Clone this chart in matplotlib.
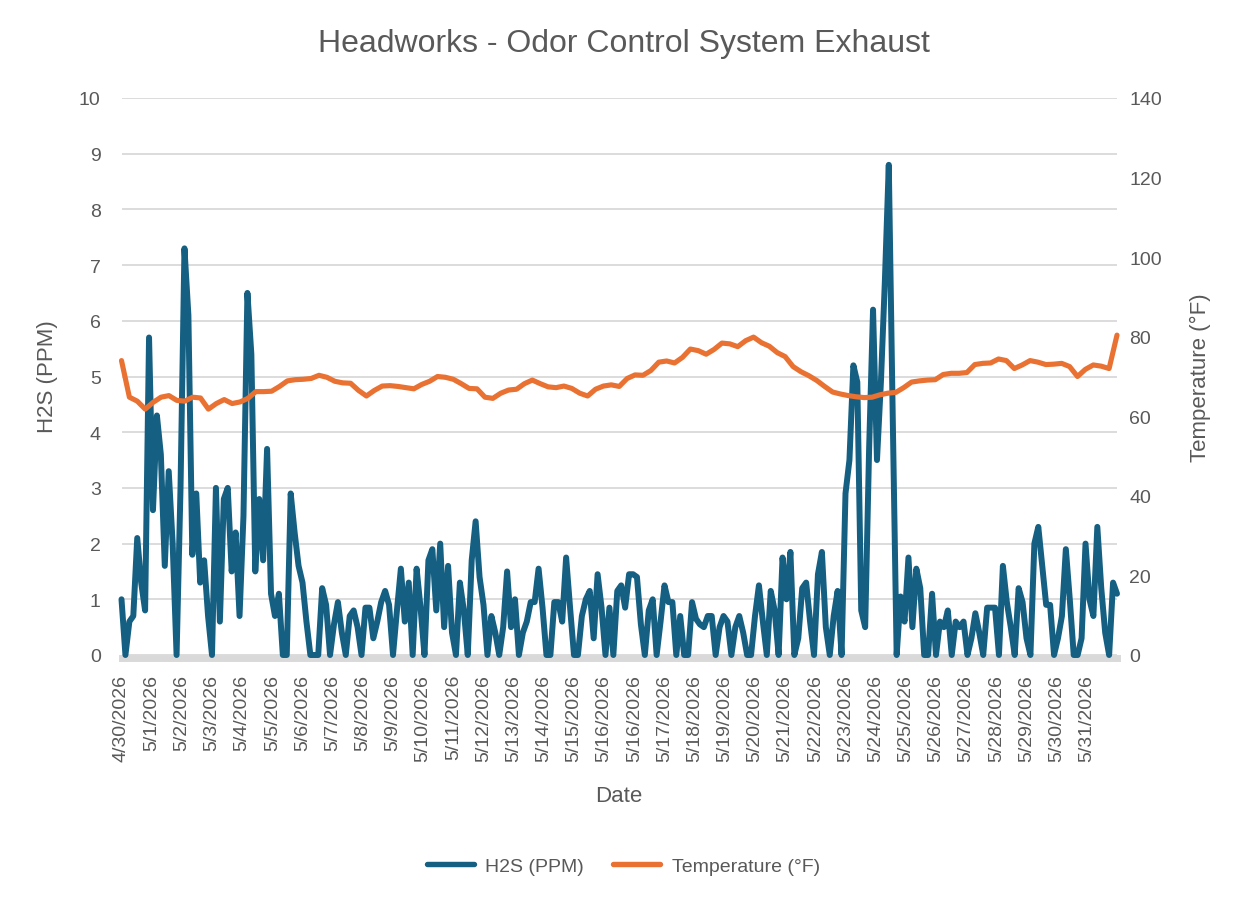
import numpy as np
import matplotlib
matplotlib.use("Agg")
import matplotlib.pyplot as plt
from matplotlib.lines import Line2D

plt.rcParams['font.family'] = ['Liberation Sans', 'DejaVu Sans']

# ---------------- data ----------------
title = "Headworks - Odor Control System Exhaust"
h2s_label = "H2S (PPM)"
temp_label = "Temperature (°F)"

# H2S readings, one value every 3 hours
h2s_step_hours = 3
h2s_ppm = [
    1.0, 0.0, 0.6, 0.7, 2.1, 1.3, 0.8, 5.7, 2.6, 4.3,
    3.6, 1.6, 3.3, 2.0, 0.0, 3.0, 7.3, 6.1, 1.8, 2.9,
    1.3, 1.7, 0.7, 0.0, 3.0, 0.6, 2.8, 3.0, 1.5, 2.2,
    0.7, 2.5, 6.5, 5.4, 1.5, 2.8, 1.7, 3.7, 1.1, 0.7,
    1.1, 0.0, 0.0, 2.9, 2.2, 1.6, 1.3, 0.6, 0.0, 0.0,
    0.0, 1.2, 0.9, 0.0, 0.55, 0.95, 0.4, 0.0, 0.7, 0.8,
    0.5, 0.0, 0.85, 0.85, 0.3, 0.6, 0.95, 1.15, 0.9, 0.0,
    0.8, 1.55, 0.6, 1.3, 0.0, 1.55, 0.85, 0.0, 1.7, 1.9,
    0.8, 2.0, 0.5, 1.6, 0.4, 0.0, 1.3, 0.8, 0.0, 1.7,
    2.4, 1.4, 0.9, 0.0, 0.7, 0.4, 0.0, 0.5, 1.5, 0.5,
    1.0, 0.0, 0.4, 0.6, 0.95, 0.95, 1.55, 0.85, 0.0, 0.0,
    0.95, 0.95, 0.6, 1.75, 0.85, 0.0, 0.0, 0.7, 1.0, 1.15,
    0.3, 1.45, 0.85, 0.0, 0.85, 0.0, 1.15, 1.25, 0.85, 1.45,
    1.45, 1.4, 0.55, 0.0, 0.8, 1.0, 0.0, 0.6, 1.25, 0.95,
    0.95, 0.0, 0.7, 0.0, 0.0, 0.95, 0.65, 0.55, 0.5, 0.7,
    0.7, 0.0, 0.5, 0.7, 0.6, 0.0, 0.5, 0.7, 0.4, 0.0,
    0.0, 0.7, 1.25, 0.6, 0.0, 1.15, 0.8, 0.0, 1.75, 1.0,
    1.85, 0.0, 0.3, 1.2, 1.3, 0.6, 0.0, 1.45, 1.85, 0.5,
    0.0, 0.7, 1.15, 0.0, 2.9, 3.5, 5.2, 4.9, 0.8, 0.5,
    3.7, 6.2, 3.5, 4.9, 6.7, 8.8, 4.3, 0.0, 1.05, 0.6,
    1.75, 0.5, 1.55, 1.2, 0.0, 0.0, 1.1, 0.0, 0.6, 0.5,
    0.8, 0.0, 0.6, 0.5, 0.6, 0.0, 0.3, 0.75, 0.4, 0.0,
    0.85, 0.85, 0.85, 0.0, 1.6, 0.95, 0.5, 0.0, 1.2, 0.95,
    0.3, 0.0, 2.0, 2.3, 1.6, 0.9, 0.9, 0.0, 0.3, 0.7,
    1.9, 1.0, 0.0, 0.0, 0.3, 2.0, 1.0, 0.7, 2.3, 1.2,
    0.4, 0.0, 1.3, 1.1,
]

# Temperature readings (°F), evenly spread over the same period
temp_f = [
    74.0, 64.8, 63.8, 61.8, 63.5, 64.8, 65.2, 64.0, 63.8, 64.8,
    64.6, 61.8, 63.2, 64.2, 63.2, 63.6, 64.5, 66.2, 66.2, 66.3,
    67.5, 68.9, 69.2, 69.3, 69.5, 70.3, 69.8, 68.8, 68.4, 68.3,
    66.5, 65.1, 66.5, 67.6, 67.7, 67.5, 67.2, 66.9, 68.0, 68.8,
    70.0, 69.8, 69.3, 68.2, 67.0, 66.9, 64.8, 64.5, 65.8, 66.6,
    66.8, 68.2, 69.1, 68.2, 67.4, 67.2, 67.6, 67.0, 65.8, 65.1,
    66.8, 67.6, 67.9, 67.5, 69.5, 70.4, 70.3, 71.5, 73.6, 73.9,
    73.4, 74.8, 76.9, 76.5, 75.6, 76.8, 78.4, 78.2, 77.5, 79.0,
    79.9, 78.5, 77.6, 76.0, 75.0, 72.5, 71.2, 70.2, 69.0, 67.5,
    66.1, 65.6, 65.2, 64.9, 64.7, 64.8, 65.4, 65.8, 66.0, 67.2,
    68.6, 68.9, 69.1, 69.2, 70.5, 70.8, 70.8, 71.0, 73.0, 73.3,
    73.4, 74.4, 74.0, 72.0, 72.9, 74.0, 73.6, 73.0, 73.1, 73.3,
    72.5, 70.0, 71.8, 72.9, 72.6, 72.0, 80.4,
]

# Category-axis labels (one label every 23 hours)
label_every_hours = 23
date_labels = [
    "4/30/2026", "5/1/2026", "5/2/2026", "5/3/2026", "5/4/2026", "5/5/2026",
    "5/6/2026", "5/7/2026", "5/8/2026", "5/9/2026", "5/10/2026", "5/11/2026",
    "5/12/2026", "5/13/2026", "5/14/2026", "5/15/2026", "5/16/2026", "5/16/2026",
    "5/17/2026", "5/18/2026", "5/19/2026", "5/20/2026", "5/21/2026", "5/22/2026",
    "5/23/2026", "5/24/2026", "5/25/2026", "5/26/2026", "5/27/2026", "5/28/2026",
    "5/29/2026", "5/30/2026", "5/31/2026",
]

# ---------------- styling ----------------
BLUE = "#156082"
ORANGE = "#E97132"
TXT = "#595959"
GRID = "#D9D9D9"

W, H = 1247, 904
fig = plt.figure(figsize=(W / 100, H / 100), dpi=100)
fig.patch.set_facecolor("white")

L, R, T, B = 121.5, 1117, 99, 656
ax = fig.add_axes([L / W, 1 - B / H, (R - L) / W, (B - T) / H])
ax2 = ax.twinx()

h2s_hours = np.arange(len(h2s_ppm)) * h2s_step_hours
total_hours = h2s_hours[-1]
temp_hours = np.linspace(0, total_hours, len(temp_f))

ax.plot(h2s_hours, h2s_ppm, color=BLUE, lw=4.3, solid_joinstyle="round",
        solid_capstyle="round", clip_on=False, zorder=3)
ax2.plot(temp_hours, temp_f, color=ORANGE, lw=3.7, solid_joinstyle="round",
         solid_capstyle="round", clip_on=False, zorder=3)

ax.set_xlim(0, total_hours)
ax.set_ylim(0, 10)
ax2.set_ylim(0, 140)
ax.set_yticks(np.arange(0, 11, 1))
ax2.set_yticks(np.arange(0, 141, 20))

tick_pos = np.arange(len(date_labels)) * label_every_hours
ax.set_xticks(tick_pos)
ax.set_xticklabels(date_labels)

ax.grid(axis="y", color=GRID, lw=1.3)
ax.set_axisbelow(True)

for a in (ax, ax2):
    for s in a.spines.values():
        s.set_visible(False)
ax.spines["bottom"].set_visible(True)
ax.spines["bottom"].set_color(GRID)
ax.spines["bottom"].set_linewidth(5.0)
ax.spines["bottom"].set_position(("outward", 2.5))
ax.spines["bottom"].set_zorder(1)

ax.tick_params(axis="x", length=0, pad=11, labelsize=14, labelcolor=TXT,
               labelrotation=90)
for lbl in ax.get_xticklabels():
    lbl.set_verticalalignment("top")
    lbl.set_horizontalalignment("center")
ax.tick_params(axis="y", length=0, pad=15, labelsize=14, labelcolor=TXT)
ax2.tick_params(axis="y", length=0, pad=9, labelsize=14, labelcolor=TXT)

fig.text(0.5, 1 - 44 / H, title, ha="center", va="center", fontsize=23, color=TXT)
fig.text(48 / W, 1 - 377 / H, h2s_label, rotation=90, ha="center", va="center",
         fontsize=16, color=TXT)
fig.text(1200 / W, 1 - 378 / H, temp_label, rotation=90, ha="center", va="center",
         fontsize=16, color=TXT)
fig.text(619 / W, 1 - 797 / H, "Date", ha="center", va="center", fontsize=16, color=TXT)

handles = [Line2D([], [], color=BLUE, lw=3.9, solid_capstyle="round"),
           Line2D([], [], color=ORANGE, lw=3.9, solid_capstyle="round")]
fig.legend(handles, [h2s_label, temp_label], loc="center",
           bbox_to_anchor=(0.5, 1 - 867 / H), ncol=2, frameon=False,
           fontsize=14, labelcolor=TXT, handlelength=2.4, handletextpad=0.6,
           columnspacing=1.5)

fig.savefig("out.png", dpi=100, facecolor="white")
